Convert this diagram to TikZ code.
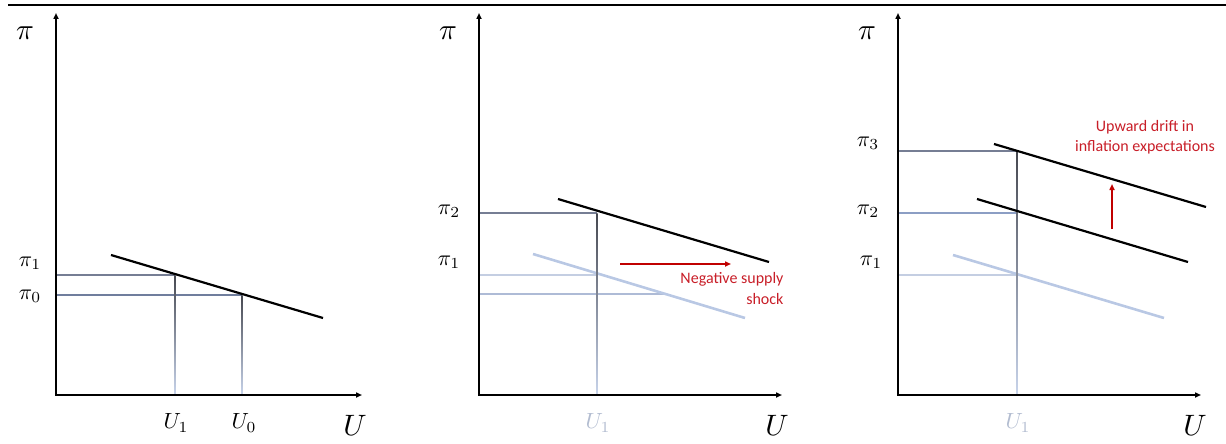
\documentclass[tikz,border=0pt]{standalone}
\usepackage{fontspec}
\setmainfont{Carlito}
\usetikzlibrary{arrows.meta}
\definecolor{shockred}{RGB}{192,0,0}
\definecolor{textred}{RGB}{200,30,40}
\definecolor{oldcurvecol}{RGB}{185,200,228}
\definecolor{gridDark}{RGB}{118,126,148}
\definecolor{gridMid}{RGB}{140,158,196}
\definecolor{gridLight}{RGB}{196,206,226}
\definecolor{vtop}{RGB}{70,72,80}
\definecolor{vbot}{RGB}{200,212,235}
\definecolor{fadedlab}{RGB}{178,188,208}
\begin{document}
\begin{tikzpicture}[x=1pt,y=-1pt,
  axis/.style={line width=2pt,{Triangle[length=6pt,width=5pt]}-{Triangle[length=6pt,width=5pt]}},
  curve/.style={line width=2.2pt,black},
  oldcurve/.style={line width=2.6pt,oldcurvecol},
  glab/.style={font=\fontsize{10}{10}\selectfont,scale=2.2},
  biglab/.style={font=\fontsize{10}{10}\selectfont,scale=2.95},
  redtext/.style={text=textred,font=\fontsize{16}{20.5}\selectfont},
  redarrow/.style={line width=2pt,shockred,-{Triangle[length=6pt,width=5pt]}}]
\useasboundingbox (0,0) rectangle (1226,444);
\coordinate (tl) at (8,5); \coordinate (tr) at (1226,5);
\draw[line width=2.2pt] (tl) -- (tr);

% ---------- Panel 1 ----------
\coordinate (o1) at (56,395);
\coordinate (ya1) at (56,13);
\coordinate (xa1) at (362,395);
\node[biglab] (pi1ax) at (25,33) {$\pi$};
\node[biglab] (u1ax) at (355,425) {$U$};
\coordinate (c1s) at (111,255); \coordinate (c1e) at (323,318);
\coordinate (p1a) at (56,275); \coordinate (p1b) at (175,275);
\coordinate (p0a) at (56,295); \coordinate (p0b) at (242,295);
\draw[gridDark,line width=1.3pt] (p1a) -- (p1b);
\draw[gridMid!80!black,line width=1.3pt] (p0a) -- (p0b);
\shade[top color=vtop,bottom color=vbot] (174.3,275) rectangle (175.7,395);
\shade[top color=vtop,bottom color=vbot] (241.3,295) rectangle (242.7,395);
\draw[curve] (c1s) -- (c1e);
\draw[axis] (ya1) -- (o1) -- (xa1);
\node[glab] (l1pi1) at (30,263) {$\pi_1$};
\node[glab] (l1pi0) at (30,296) {$\pi_0$};
\node[glab] (l1u1) at (176,423) {$U_1$};
\node[glab] (l1u0) at (244,423) {$U_0$};

% ---------- Panel 2 ----------
\coordinate (o2) at (479,395);
\coordinate (ya2) at (479,13);
\coordinate (xa2) at (782,395);
\node[biglab] (pi2ax) at (448,33) {$\pi$};
\node[biglab] (u2ax) at (777,425) {$U$};
\coordinate (c2s) at (558,199); \coordinate (c2e) at (769,262);
\coordinate (o2s) at (533,254); \coordinate (o2e) at (745,318);
\draw[gridLight,line width=1.3pt] (479,275) -- (597,275);
\draw[gridMid!70!white,line width=2pt] (479,294) -- (665,294);
\draw[oldcurve] (o2s) -- (o2e);
\draw[gridDark,line width=1.3pt] (479,213) -- (597,213);
\shade[top color=vtop,bottom color=vbot] (596.3,213) rectangle (597.7,395);
\draw[curve] (c2s) -- (c2e);
\draw[axis] (ya2) -- (o2) -- (xa2);
\node[glab] (l2pi2) at (449,211) {$\pi_2$};
\node[glab] (l2pi1) at (449,262) {$\pi_1$};
\node[glab,text=fadedlab] (l2u1) at (598,423) {$U_1$};
\coordinate (sa) at (620,264); \coordinate (sb) at (731,264);
\draw[redarrow] (sa) -- (sb);
\node[redtext,align=right,anchor=east] (shock) at (787,288.5) {Negative supply\\shock};

% ---------- Panel 3 ----------
\coordinate (o3) at (898,395);
\coordinate (ya3) at (898,13);
\coordinate (xa3) at (1201,395);
\node[biglab] (pi3ax) at (867,33) {$\pi$};
\node[biglab] (u3ax) at (1195,425) {$U$};
\coordinate (c3s) at (994,144); \coordinate (c3e) at (1206,207);
\coordinate (m3s) at (977,199); \coordinate (m3e) at (1188,262);
\coordinate (o3s) at (953,255); \coordinate (o3e) at (1164,318);
\draw[gridLight,line width=1.1pt] (898,275) -- (1017,275);
\draw[oldcurve] (o3s) -- (o3e);
\draw[gridMid,line width=2pt] (898,213) -- (1017,213);
\draw[gridDark,line width=1.3pt] (898,151) -- (1017,151);
\shade[top color=vtop,bottom color=vbot] (1016.3,151) rectangle (1017.7,395);
\draw[curve] (c3s) -- (c3e);
\draw[curve] (m3s) -- (m3e);
\draw[axis] (ya3) -- (o3) -- (xa3);
\node[glab] (l3pi3) at (868,143) {$\pi_3$};
\node[glab] (l3pi2) at (868,211) {$\pi_2$};
\node[glab] (l3pi1) at (871,262) {$\pi_1$};
\node[glab,text=fadedlab] (l3u1) at (1018,423) {$U_1$};
\coordinate (ua) at (1112,229); \coordinate (ub) at (1112,184);
\draw[redarrow] (ua) -- (ub);
\node[redtext,align=center] (drift) at (1145,137) {Upward drift in\\inflation expectations};
\end{tikzpicture}
\end{document}
